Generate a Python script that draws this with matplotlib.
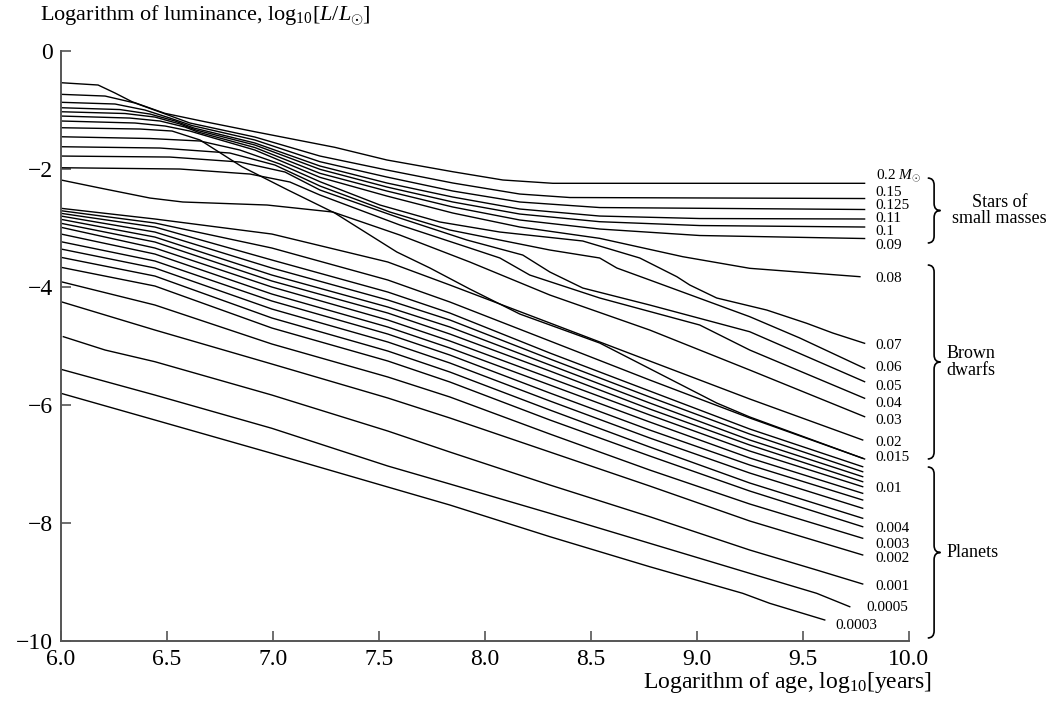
import numpy as np
import matplotlib
matplotlib.use('Agg')
import matplotlib.pyplot as plt
from matplotlib.path import Path
from matplotlib.patches import PathPatch

plt.rcParams['font.family'] = ['Liberation Serif', 'DejaVu Serif']
plt.rcParams['mathtext.fontset'] = 'custom'
plt.rcParams['mathtext.rm'] = 'Liberation Serif'
plt.rcParams['mathtext.it'] = 'Liberation Serif:italic'
plt.rcParams['mathtext.bf'] = 'Liberation Serif:bold'

# ---- stars of small masses (log age, log L) ----
age_020 = [6.0, 6.175, 6.255, 6.335, 6.49, 6.679, 6.915, 7.292, 7.538, 7.849, 8.085, 8.321, 9.792]
lum_020 = [-0.537, -0.576, -0.712, -0.859, -1.056, -1.198, -1.368, -1.632, -1.847, -2.046, -2.186, -2.242, -2.242]
age_015 = [6.0, 6.208, 6.349, 6.467, 6.608, 6.915, 7.222, 7.538, 7.849, 8.165, 8.401, 9.792]
lum_015 = [-0.734, -0.763, -0.881, -1.034, -1.220, -1.458, -1.780, -2.017, -2.237, -2.424, -2.483, -2.500]
age_0125 = [6.0, 6.255, 6.396, 6.514, 6.618, 6.915, 7.222, 7.538, 7.849, 8.165, 8.542, 9.792]
lum_0125 = [-0.869, -0.898, -1.000, -1.136, -1.263, -1.508, -1.876, -2.136, -2.373, -2.559, -2.653, -2.686]
age_011 = [6.0, 6.278, 6.42, 6.538, 6.627, 6.915, 7.222, 7.538, 7.849, 8.165, 8.542, 9.014, 9.792]
lum_011 = [-0.961, -0.992, -1.068, -1.186, -1.305, -1.559, -1.949, -2.237, -2.475, -2.678, -2.797, -2.839, -2.847]
age_010 = [6.0, 6.302, 6.443, 6.561, 6.637, 6.915, 7.222, 7.538, 7.849, 8.165, 8.542, 9.014, 9.792]
lum_010 = [-1.029, -1.059, -1.119, -1.237, -1.339, -1.593, -2.005, -2.305, -2.559, -2.763, -2.893, -2.958, -2.983]
age_009 = [6.0, 6.325, 6.467, 6.585, 6.646, 6.915, 7.222, 7.538, 7.849, 8.165, 8.542, 9.014, 9.792]
lum_009 = [-1.102, -1.136, -1.186, -1.288, -1.373, -1.636, -2.073, -2.373, -2.644, -2.864, -3.017, -3.127, -3.178]

# ---- brown dwarfs ----
age_008 = [6.0, 6.349, 6.491, 6.608, 6.656, 6.915, 7.222, 7.538, 7.849, 8.165, 8.542, 8.934, 9.25, 9.77]
lum_008 = [-1.186, -1.220, -1.271, -1.356, -1.407, -1.678, -2.141, -2.458, -2.746, -2.983, -3.175, -3.486, -3.683, -3.825]
age_cross = [6.0, 6.373, 6.524, 6.656, 6.854, 7.071, 7.292, 7.585, 7.741, 7.929, 8.165, 8.542, 9.094, 9.25, 9.792]
lum_cross = [-1.300, -1.322, -1.356, -1.508, -1.961, -2.356, -2.746, -3.407, -3.678, -4.034, -4.458, -4.949, -5.966, -6.203, -6.915]
age_007 = [6.0, 6.42, 6.656, 6.844, 7.033, 7.222, 7.505, 7.788, 8.071, 8.462, 8.731, 8.906, 8.967, 9.094, 9.33, 9.519, 9.642, 9.792]
lum_007 = [-1.453, -1.483, -1.525, -1.678, -1.915, -2.215, -2.610, -2.898, -3.068, -3.220, -3.508, -3.825, -3.966, -4.186, -4.390, -4.615, -4.780, -4.954]
age_006 = [6.0, 6.467, 6.797, 7.009, 7.222, 7.552, 7.835, 8.307, 8.542, 8.623, 8.778, 9.25, 9.486, 9.792]
lum_006 = [-1.622, -1.644, -1.729, -1.932, -2.288, -2.729, -3.034, -3.373, -3.508, -3.678, -3.881, -4.503, -4.864, -5.378]
age_005 = [6.0, 6.514, 6.844, 7.057, 7.222, 7.599, 7.915, 8.179, 8.307, 8.462, 8.778, 9.25, 9.792]
lum_005 = [-1.780, -1.797, -1.881, -2.051, -2.356, -2.831, -3.203, -3.458, -3.746, -4.017, -4.305, -4.758, -5.605]
age_004 = [6.0, 6.561, 6.892, 7.08, 7.222, 7.599, 7.929, 8.071, 8.212, 8.542, 9.014, 9.25, 9.792]
lum_004 = [-1.978, -2.000, -2.085, -2.220, -2.441, -2.949, -3.339, -3.508, -3.797, -4.186, -4.644, -5.068, -5.886]
age_003 = [6.0, 6.184, 6.42, 6.575, 6.972, 7.283, 7.599, 7.929, 8.307, 8.778, 9.25, 9.792]
lum_003 = [-2.186, -2.322, -2.492, -2.559, -2.610, -2.729, -3.119, -3.576, -4.136, -4.729, -5.407, -6.198]

# ---- lower bundle, shared ages ----
age_low = [6.0, 6.443, 6.995, 7.542, 7.835, 8.307, 8.778, 9.25, 9.783]
lum_0020 = [-2.666, -2.847, -3.102, -3.576, -3.966, -4.610, -5.254, -5.898, -6.593]
lum_0015 = [-2.707, -2.915, -3.339, -3.881, -4.254, -4.915, -5.576, -6.220, -6.903]
lum_0014 = [-2.751, -2.983, -3.542, -4.085, -4.441, -5.119, -5.763, -6.407, -7.046]
lum_0013 = [-2.797, -3.068, -3.678, -4.220, -4.559, -5.220, -5.864, -6.492, -7.131]
lum_0012 = [-2.853, -3.153, -3.797, -4.339, -4.678, -5.322, -5.966, -6.593, -7.215]
lum_0011 = [-2.920, -3.237, -3.898, -4.441, -4.797, -5.424, -6.068, -6.678, -7.300]
lum_0010 = [-2.988, -3.339, -4.000, -4.559, -4.915, -5.542, -6.169, -6.780, -7.385]
lum_0009 = [-3.102, -3.441, -4.119, -4.678, -5.034, -5.661, -6.288, -6.898, -7.497]
lum_0008 = [-3.232, -3.559, -4.237, -4.797, -5.153, -5.797, -6.424, -7.017, -7.610]
lum_0007 = [-3.356, -3.678, -4.373, -4.932, -5.288, -5.932, -6.559, -7.153, -7.751]
lum_0005 = [-3.497, -3.814, -4.525, -5.085, -5.441, -6.085, -6.712, -7.322, -7.920]
lum_0004 = [-3.666, -3.983, -4.695, -5.254, -5.610, -6.254, -6.864, -7.458, -8.063]
lum_0003 = [-3.910, -4.305, -4.966, -5.525, -5.864, -6.492, -7.102, -7.678, -8.259]
lum_0002 = [-4.249, -4.729, -5.305, -5.881, -6.220, -6.797, -7.373, -7.966, -8.542]

# ---- planets ----
age_p001 = [6.011, 6.208, 6.443, 6.995, 7.542, 7.835, 8.307, 8.778, 9.25, 9.566, 9.783]
lum_p001 = [-4.842, -5.068, -5.266, -5.831, -6.441, -6.797, -7.356, -7.893, -8.458, -8.797, -9.034]
age_p0005 = [6.0, 6.443, 6.995, 7.542, 7.835, 8.307, 8.778, 9.25, 9.566, 9.722]
lum_p0005 = [-5.395, -5.831, -6.395, -7.034, -7.339, -7.836, -8.344, -8.853, -9.192, -9.419]
age_p0003 = [6.0, 6.443, 6.995, 7.542, 7.835, 8.307, 8.778, 9.217, 9.344, 9.604]
lum_p0003 = [-5.802, -6.254, -6.819, -7.390, -7.695, -8.232, -8.741, -9.192, -9.361, -9.644]

# ---- labels at the right ----
mass_labels = ['0.2 $M_{\\odot}$', '0.15', '0.125', '0.11', '0.1', '0.09', '0.08', '0.07', '0.06',
               '0.05', '0.04', '0.03', '0.02', '0.015', '0.01', '0.004', '0.003', '0.002',
               '0.001', '0.0005', '0.0003']
label_y = [-2.119, -2.390, -2.610, -2.847, -3.051, -3.288, -3.864, -4.983, -5.356,
           -5.678, -5.966, -6.271, -6.627, -6.898, -7.407, -8.085, -8.356, -8.610,
           -9.068, -9.424, -9.729]
label_x = [9.844] * 19 + [9.802, 9.656]

groups = ['Stars of\nsmall masses', 'Brown\ndwarfs', 'Planets']
group_top = [-2.153, -3.627, -7.051]
group_bottom = [-3.254, -6.915, -9.949]

curves = [(age_020, lum_020), (age_015, lum_015), (age_0125, lum_0125), (age_011, lum_011),
          (age_010, lum_010), (age_009, lum_009), (age_008, lum_008), (age_cross, lum_cross),
          (age_007, lum_007), (age_006, lum_006), (age_005, lum_005), (age_004, lum_004),
          (age_003, lum_003)]
for lum in [lum_0020, lum_0015, lum_0014, lum_0013, lum_0012, lum_0011, lum_0010, lum_0009,
            lum_0008, lum_0007, lum_0005, lum_0004, lum_0003, lum_0002]:
    curves.append((age_low, lum))
curves += [(age_p001, lum_p001), (age_p0005, lum_p0005), (age_p0003, lum_p0003)]

fig = plt.figure(figsize=(10.5, 7.01), dpi=100)
ax = fig.add_axes([0.0581, 0.0856, 0.8073, 0.8416])

for xs, ys in curves:
    ax.plot(xs, ys, color='black', lw=1.0, solid_joinstyle='round')

ax.set_xlim(6.0, 10.0)
ax.set_ylim(-10, 0)
ax.set_xticks(np.arange(6.0, 10.01, 0.5))
ax.set_xticklabels(['%.1f' % t for t in np.arange(6.0, 10.01, 0.5)])
ax.set_yticks([0, -2, -4, -6, -8, -10])
ax.set_yticklabels(['0', '\u22122', '\u22124', '\u22126', '\u22128', '\u221210'])
for s in ['top', 'right']:
    ax.spines[s].set_visible(False)
for s in ['left', 'bottom']:
    ax.spines[s].set_color('#555555')
    ax.spines[s].set_linewidth(1.4)
ax.tick_params(direction='in', length=7, width=1.2, color='#555555', labelsize=17)
ax.tick_params(axis='x', pad=6)
ax.tick_params(axis='y', pad=6)

for txt, ly, lx in zip(mass_labels, label_y, label_x):
    ax.text(lx, ly, txt, fontsize=11, va='center', ha='left', clip_on=False)


def brace(ax, x0, y_top, y_bot, w=0.03, r=0.12):
    ym = (y_top + y_bot) / 2
    verts = [(x0 - w, y_top), (x0, y_top), (x0, y_top - r),
             (x0, ym + r),
             (x0, ym), (x0 + w, ym),
             (x0, ym), (x0, ym - r),
             (x0, y_bot + r),
             (x0, y_bot), (x0 - w, y_bot)]
    codes = [Path.MOVETO, Path.CURVE3, Path.CURVE3, Path.LINETO,
             Path.CURVE3, Path.CURVE3, Path.CURVE3, Path.CURVE3,
             Path.LINETO, Path.CURVE3, Path.CURVE3]
    ax.add_patch(PathPatch(Path(verts, codes), fill=False, lw=1.2, color='black', clip_on=False))
    return ym


xb = [10.12, 10.12, 10.12]
for g, yt, yb, x0 in zip(groups, group_top, group_bottom, xb):
    ym = brace(ax, x0, yt, yb)
    if g.startswith('Stars'):
        ax.text(10.43, ym, g, fontsize=13, ha='center', va='center', clip_on=False, linespacing=0.95)
    else:
        ax.text(x0 + 0.06, ym, g, fontsize=13, ha='left', va='center', clip_on=False, linespacing=0.95)

fig.text(0.038, 0.978, 'Logarithm of luminance, log$_{10}$[$L/L_{\\odot}$]', fontsize=16,
         ha='left', va='center')
fig.text(0.888, 0.026, 'Logarithm of age, log$_{10}$[years]', fontsize=17, ha='right', va='center')

fig.savefig('out.png', dpi=100)
